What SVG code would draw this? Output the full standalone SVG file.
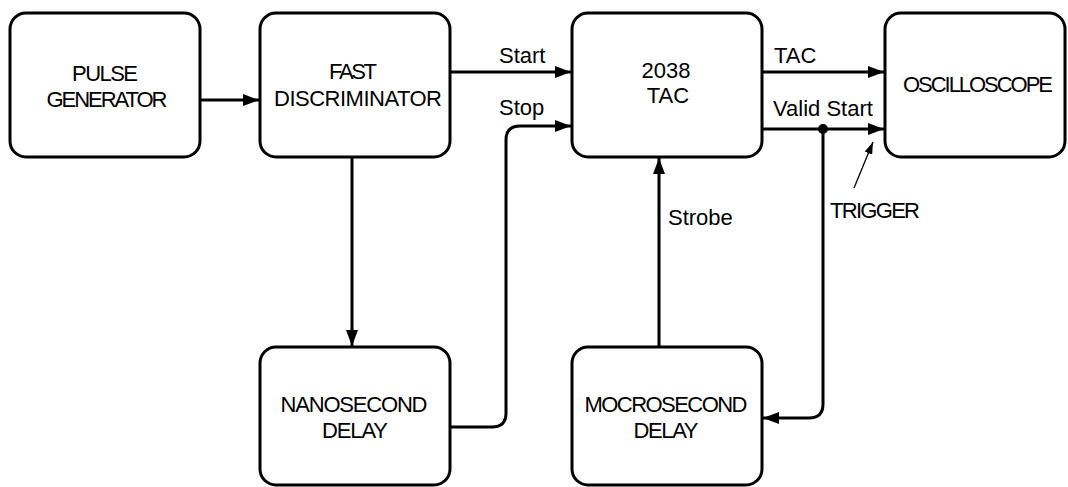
<svg xmlns="http://www.w3.org/2000/svg" width="1068" height="487" viewBox="0 0 1068 487">
<style>
.box{fill:#fff;stroke:#000;stroke-width:3}
.t{font-family:"Liberation Sans",Arial,sans-serif;font-size:22px;fill:#000;text-anchor:middle}
.l{font-family:"Liberation Sans",Arial,sans-serif;font-size:22px;fill:#000}
.c{fill:none;stroke:#000;stroke-width:3}
.thin{fill:none;stroke:#000;stroke-width:1.3}
</style>
<defs>
<marker id="ah" viewBox="0 0 16 12" refX="16" refY="6" markerWidth="16" markerHeight="12" markerUnits="userSpaceOnUse" orient="auto">
<path d="M0,0 L16,6 L0,12 Z" fill="#000"/>
</marker>
<marker id="ahs" viewBox="0 0 12 8" refX="12" refY="4" markerWidth="12" markerHeight="8" markerUnits="userSpaceOnUse" orient="auto">
<path d="M0,0 L12,4 L0,8 Z" fill="#000"/>
</marker>
</defs>
<g id="connectors">
<path class="c" d="M200,100 H259" marker-end="url(#ah)"/>
<path class="c" d="M450,72 H571" marker-end="url(#ah)"/>
<path class="c" d="M352,157 V346" marker-end="url(#ah)"/>
<path class="c" d="M450,427 H492 Q506,427 506,413 V140 Q506,126 520,126 H571" marker-end="url(#ah)"/>
<path class="c" d="M762,72 H884" marker-end="url(#ah)"/>
<path class="c" d="M762,129 H884" marker-end="url(#ah)"/>
<circle cx="823" cy="129" r="5" fill="#000"/>
<path class="c" d="M823,129 V404 Q823,418 809,418 H763" marker-end="url(#ah)"/>
<path class="c" d="M659,347 V158" marker-end="url(#ah)"/>
<path class="thin" d="M854,188 L873,142" marker-end="url(#ahs)"/>
<text class="l" x="499" y="63">Start</text>
<text class="l" x="499" y="115">Stop</text>
<text class="l" x="774" y="63">TAC</text>
<text class="l" x="773" y="116">Valid Start</text>
<text class="l" x="668" y="225">Strobe</text>
<text class="l" x="830" y="218" textLength="90">TRIGGER</text>
</g>
<g id="pulse-generator">
<rect class="box" x="10" y="13" width="190" height="144" rx="16"/>
<text class="t" x="105" y="81" textLength="66">PULSE</text>
<text class="t" x="107" y="107" textLength="121">GENERATOR</text>
</g>
<g id="fast-discriminator">
<rect class="box" x="260" y="13" width="190" height="144" rx="16"/>
<text class="t" x="353" y="79" textLength="48">FAST</text>
<text class="t" x="358" y="106" textLength="168">DISCRIMINATOR</text>
</g>
<g id="tac">
<rect class="box" x="572" y="13" width="190" height="144" rx="16"/>
<text class="t" x="666" y="78">2038</text>
<text class="t" x="668" y="103">TAC</text>
</g>
<g id="oscilloscope">
<rect class="box" x="885" y="13" width="180" height="144" rx="16"/>
<text class="t" x="978" y="92" textLength="150">OSCILLOSCOPE</text>
</g>
<g id="nanosecond-delay">
<rect class="box" x="260" y="347" width="190" height="138" rx="16"/>
<text class="t" x="354" y="412" textLength="147">NANOSECOND</text>
<text class="t" x="355" y="438" textLength="66">DELAY</text>
</g>
<g id="microsecond-delay">
<rect class="box" x="572" y="347" width="190" height="138" rx="16"/>
<text class="t" x="666" y="412" textLength="163">MOCROSECOND</text>
<text class="t" x="666" y="438" textLength="65">DELAY</text>
</g>
</svg>
